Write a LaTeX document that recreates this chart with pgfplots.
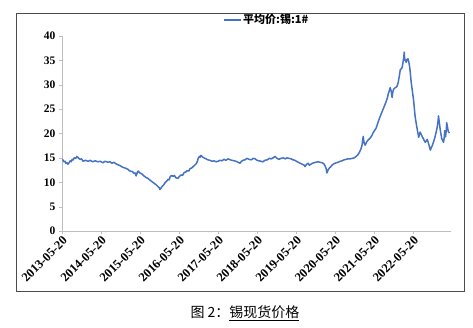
\documentclass[border=0pt]{standalone}
\usepackage{pgfplots}
\pgfplotsset{compat=1.18}
\usepackage{fontspec}
\setmainfont{Liberation Serif}
\newfontfamily\cjk{Noto Sans CJK SC}
\definecolor{lineblue}{RGB}{68,114,196}
\definecolor{axgray}{RGB}{190,190,190}
\begin{document}
\begin{tikzpicture}[x=1pt,y=1pt]
\useasboundingbox (0,0) rectangle (473,327);
\draw[black!70, line width=0.8pt] (16,36) rectangle (464,314);
\begin{axis}[
  at={(62pt,96pt)}, anchor=south west,
  scale only axis, width=389pt, height=195pt,
  xmin=0, xmax=9.97, ymin=0, ymax=40,
  axis lines=left, axis line style={axgray, -},
  tick style={axgray}, tick align=outside, major tick length=3pt,
  ytick={0,5,...,40},
  xtick={0,1,...,9},
  xticklabels={2013-05-20,2014-05-20,2015-05-20,2016-05-20,2017-05-20,2018-05-20,2019-05-20,2020-05-20,2021-05-20,2022-05-20},
  x tick label style={rotate=45, anchor=north east, font=\fontsize{12.5}{13}\selectfont\bfseries, inner sep=1pt},
  y tick label style={font=\fontsize{11.5}{12}\selectfont\bfseries},
  /pgf/number format/assume math mode=true,
  legend style={at={(0.526,1.082)}, anchor=center, draw=none, fill=none, font=\cjk\bfseries\fontsize{11}{12}\selectfont},
  legend cell align=left,
  legend image post style={line width=1.3pt},
]
\addplot[lineblue, line width=1.5pt, line join=round] coordinates {
(0.00,14.7)(0.03,14.5)(0.05,14.2)(0.08,14.3)(0.10,13.9)(0.13,14.0)(0.15,13.7)(0.18,14.0)(0.21,14.4)(0.24,14.2)
(0.26,14.7)(0.29,14.6)(0.31,15.0)(0.35,14.9)(0.38,15.3)(0.42,15.0)(0.46,14.7)(0.50,14.8)(0.54,14.3)(0.60,14.5)
(0.67,14.3)(0.72,14.5)(0.79,14.2)(0.85,14.4)(0.92,14.2)(0.98,14.3)(1.05,14.0)(1.10,14.3)(1.18,14.1)(1.23,14.2)
(1.28,13.9)(1.33,14.1)(1.38,13.8)(1.43,13.6)(1.49,13.4)(1.55,13.1)(1.62,12.9)(1.68,12.7)(1.74,12.3)(1.80,12.2)
(1.85,11.8)(1.88,11.9)(1.90,11.3)(1.93,12.0)(1.95,12.3)(2.00,11.9)(2.05,11.7)(2.10,11.3)(2.15,11.0)(2.20,10.8)
(2.26,10.4)(2.31,10.1)(2.36,9.8)(2.41,9.5)(2.46,9.1)(2.49,8.9)(2.51,8.5)(2.54,8.8)(2.56,9.1)(2.60,9.4)
(2.64,9.9)(2.68,10.2)(2.72,10.6)(2.75,10.5)(2.77,11.1)(2.81,11.4)(2.85,11.2)(2.88,11.4)(2.92,10.9)(2.97,10.8)
(3.01,11.2)(3.05,11.5)(3.09,11.4)(3.13,12.0)(3.17,12.1)(3.21,12.4)(3.25,12.3)(3.28,12.8)(3.32,12.9)(3.36,13.2)
(3.40,13.5)(3.44,13.8)(3.47,14.3)(3.49,14.9)(3.52,15.3)(3.54,15.1)(3.56,15.5)(3.60,15.2)(3.64,15.0)(3.69,14.8)
(3.74,14.6)(3.79,14.5)(3.85,14.3)(3.90,14.4)(3.95,14.2)(4.00,14.3)(4.05,14.5)(4.10,14.4)(4.15,14.7)(4.20,14.5)
(4.26,14.8)(4.31,14.6)(4.36,14.5)(4.41,14.4)(4.46,14.3)(4.51,14.1)(4.56,13.9)(4.60,14.3)(4.64,14.5)(4.69,14.6)
(4.74,14.9)(4.79,14.7)(4.85,14.6)(4.90,14.9)(4.95,14.8)(5.00,14.5)(5.05,14.4)(5.10,14.3)(5.15,14.2)(5.20,14.5)
(5.26,14.6)(5.31,14.9)(5.36,14.8)(5.41,15.0)(5.46,15.3)(5.51,14.9)(5.56,14.7)(5.61,14.9)(5.67,15.0)(5.72,14.8)
(5.77,15.0)(5.82,14.9)(5.87,14.8)(5.92,14.6)(5.97,14.5)(6.03,14.2)(6.08,14.0)(6.13,13.8)(6.18,13.6)(6.21,13.5)
(6.23,13.2)(6.27,13.7)(6.31,13.9)(6.34,13.5)(6.38,13.7)(6.42,13.9)(6.46,14.0)(6.51,14.1)(6.56,14.2)(6.61,14.1)
(6.67,14.0)(6.71,13.8)(6.74,13.4)(6.77,12.8)(6.79,11.9)(6.82,12.5)(6.85,12.9)(6.89,13.2)(6.92,13.5)(6.97,13.8)
(7.03,14.0)(7.08,14.1)(7.13,14.3)(7.18,14.4)(7.23,14.6)(7.28,14.7)(7.33,14.8)(7.38,14.8)(7.44,14.9)(7.49,15.0)
(7.54,15.3)(7.58,15.6)(7.62,16.1)(7.66,16.8)(7.69,17.6)(7.71,18.8)(7.72,19.4)(7.74,18.2)(7.77,17.6)(7.81,18.3)
(7.85,18.7)(7.88,18.9)(7.92,19.3)(7.95,19.7)(7.97,20.1)(8.01,20.6)(8.05,21.1)(8.10,22.3)(8.15,23.4)(8.19,24.2)
(8.23,25.0)(8.27,25.8)(8.31,26.6)(8.34,27.3)(8.36,28.1)(8.39,28.8)(8.41,29.4)(8.44,28.6)(8.46,27.4)(8.48,28.6)
(8.50,29.1)(8.54,29.4)(8.58,29.6)(8.60,30.0)(8.62,30.6)(8.65,32.0)(8.67,33.1)(8.70,33.3)(8.72,33.6)(8.74,34.6)
(8.76,35.6)(8.77,36.7)(8.78,35.5)(8.79,35.1)(8.81,34.9)(8.82,34.6)(8.84,35.2)(8.87,35.3)(8.89,34.6)(8.91,33.7)
(8.93,32.2)(8.95,30.5)(8.98,28.7)(9.01,26.9)(9.03,25.2)(9.05,23.5)(9.08,22.0)(9.11,20.6)(9.13,19.8)(9.14,19.2)
(9.16,19.8)(9.18,20.3)(9.20,19.9)(9.22,19.6)(9.24,19.2)(9.26,19.0)(9.28,18.6)(9.31,18.2)(9.34,18.5)(9.36,18.8)
(9.40,17.8)(9.44,16.6)(9.47,17.2)(9.49,17.5)(9.52,18.2)(9.56,19.3)(9.59,20.3)(9.62,21.5)(9.64,22.7)(9.65,23.6)
(9.67,22.3)(9.69,21.0)(9.71,20.0)(9.73,19.0)(9.76,18.5)(9.78,18.2)(9.80,19.5)(9.81,20.6)(9.83,19.3)(9.85,20.8)
(9.86,22.2)(9.88,21.3)(9.90,20.4)(9.93,20.1)
};
\addlegendentry{平均价:锡:1\#}
\end{axis}
\node[font=\cjk\fontsize{14}{16}\selectfont] at (245,14) {图 2：\underline{锡现货价格}};
\end{tikzpicture}
\end{document}
